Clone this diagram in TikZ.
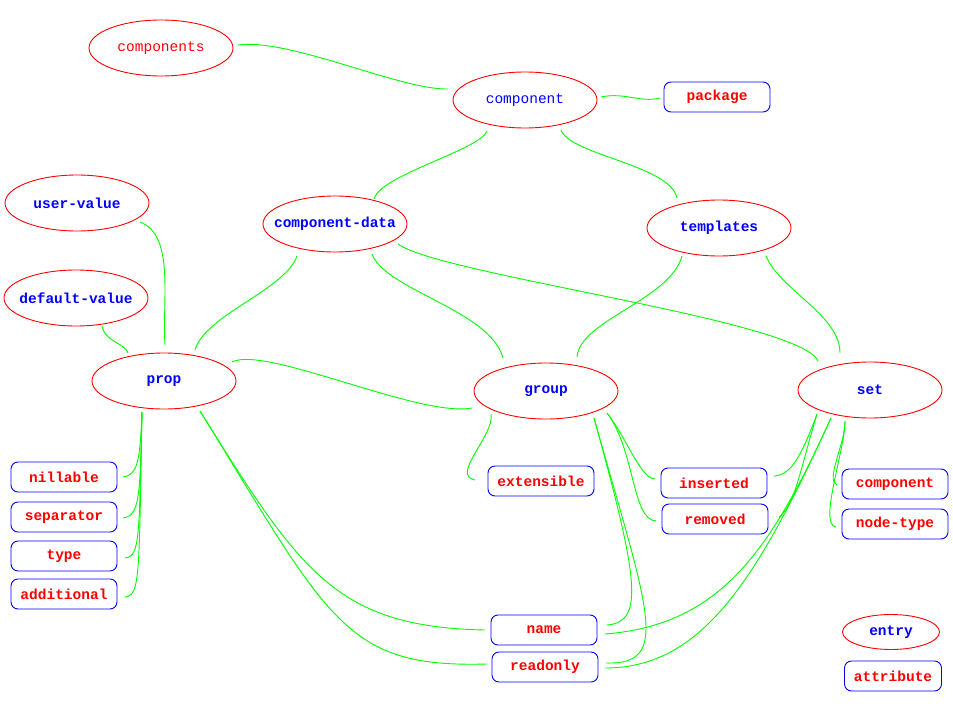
\documentclass[tikz,border=0pt]{standalone}
\usepackage{fontspec}
\newfontfamily\labfont{Liberation Mono}
\usetikzlibrary{shapes.geometric}
\definecolor{rd}{RGB}{255,0,0}
\definecolor{bl}{RGB}{0,0,255}
\definecolor{gr}{RGB}{0,255,0}
\tikzset{
  ent/.style={ellipse, draw=rd, text=bl, line width=0.9pt, inner ysep=0pt, inner xsep=-35pt,
    minimum width=144pt, minimum height=56pt, font=\labfont\bfseries\fontsize{14.5}{15}\selectfont},
  att/.style={rectangle, rounded corners=7pt, draw=bl, text=rd, line width=0.9pt, inner sep=0pt,
    minimum width=106pt, minimum height=30pt, font=\labfont\bfseries\fontsize{14.5}{15}\selectfont},
  conn/.style={draw=gr, line width=0.9pt}
}
\begin{document}
\begin{tikzpicture}[x=1pt,y=-1pt]
\useasboundingbox (0,0) rectangle (953,706);
% entries
\node[ent, text=rd, font=\labfont\fontsize{14.5}{15}\selectfont] (C1) at (161,48) {components};
\node[ent, font=\labfont\fontsize{14.5}{15}\selectfont] (CO) at (525,100) {component};
\node[att] (PK) at (717,97) {package};
\node[ent] (UV) at (77,203) {user-value};
\node[ent] (CD) at (335,224) {component-data};
\node[ent] (TP) at (719,228) {templates};
\node[ent] (DV) at (76,298) {default-value};
\node[ent] (PR) at (164,381) {prop};
\node[ent] (GR) at (546,391) {group};
\node[ent] (ST) at (870,390) {set};
\node[att] (NI) at (64,477) {nillable};
\node[att] (SE) at (64,517) {separator};
\node[att] (TY) at (64,556) {type};
\node[att] (AD) at (64,594) {additional};
\node[att] (EX) at (541,481) {extensible};
\node[att] (IN) at (714,483) {inserted};
\node[att] (RM) at (715,519) {removed};
\node[att] (CA) at (895,484) {component};
\node[att] (NT) at (895,524) {node-type};
\node[att] (NM) at (544,630) {name};
\node[att] (RO) at (545,667) {readonly};
\node[ent, minimum width=97pt, minimum height=35pt] (EN) at (891,632) {entry};
\node[att, minimum width=97pt] (AT) at (893,676) {attribute};
% connectors
\draw[conn] ([shift={(77,-3)}]C1.center) .. controls (290,38) and (400,90) .. ([shift={(-77,-11)}]CO.center);
\draw[conn] ([shift={(76,-3)}]CO.center) .. controls (625,92) and (640,103) .. ([shift={(-57,1)}]PK.center);
\draw[conn] ([shift={(-38,31)}]CO.center) .. controls (480,150) and (380,175) .. ([shift={(39,-25)}]CD.center);
\draw[conn] ([shift={(36,30)}]CO.center) .. controls (570,155) and (670,165) .. ([shift={(-42,-30)}]TP.center);
\draw[conn] ([shift={(63,19)}]UV.center) .. controls (175,235) and (162,300) .. ([shift={(1,-36)}]PR.center);
\draw[conn] ([shift={(26,28)}]DV.center) .. controls (105,342) and (125,343) .. ([shift={(-36,-28)}]PR.center);
\draw[conn] ([shift={(-38,32)}]CD.center) .. controls (285,290) and (205,315) .. ([shift={(31,-31)}]PR.center);
\draw[conn] ([shift={(37,30)}]CD.center) .. controls (385,290) and (490,310) .. ([shift={(-43,-33)}]GR.center);
\draw[conn] ([shift={(63,20)}]CD.center) .. controls (440,275) and (800,320) .. ([shift={(-52,-29)}]ST.center);
\draw[conn] ([shift={(-37,28)}]TP.center) .. controls (670,300) and (580,320) .. ([shift={(31,-34)}]GR.center);
\draw[conn] ([shift={(47,28)}]TP.center) .. controls (780,290) and (840,315) .. ([shift={(-30,-37)}]ST.center);
\draw[conn] ([shift={(68,-19)}]PR.center) .. controls (265,345) and (420,418) .. ([shift={(-74,17)}]GR.center);
\draw[conn] ([shift={(-22,31)}]PR.center) .. controls (140,460) and (138,475) .. ([shift={(59,0)}]NI.center);
\draw[conn] ([shift={(-22,31)}]PR.center) .. controls (140,495) and (140,516) .. ([shift={(59,1)}]SE.center);
\draw[conn] ([shift={(-22,31)}]PR.center) .. controls (139,540) and (140,556) .. ([shift={(61,2)}]TY.center);
\draw[conn] ([shift={(-22,31)}]PR.center) .. controls (139,580) and (140,595) .. ([shift={(61,3)}]AD.center);
\draw[conn] ([shift={(36,30)}]PR.center) .. controls (300,571) and (335,627) .. ([shift={(-59,0)}]NM.center);
\draw[conn] ([shift={(36,30)}]PR.center) .. controls (330,622) and (345,668) .. ([shift={(-58,-3)}]RO.center);
\draw[conn] ([shift={(-55,23)}]GR.center) .. controls (495,435) and (450,475) .. ([shift={(-66,-1)}]EX.center);
\draw[conn] ([shift={(61,22)}]GR.center) .. controls (628,440) and (640,478) .. ([shift={(-59,-4)}]IN.center);
\draw[conn] ([shift={(61,22)}]GR.center) .. controls (635,450) and (632,520) .. ([shift={(-59,2)}]RM.center);
\draw[conn] ([shift={(48,27)}]GR.center) .. controls (638,578) and (645,622) .. ([shift={(63,-5)}]NM.center);
\draw[conn] ([shift={(48,27)}]GR.center) .. controls (648,610) and (672,665) .. ([shift={(61,-4)}]RO.center);
\draw[conn] ([shift={(-53,24)}]ST.center) .. controls (800,460) and (790,475) .. ([shift={(60,-7)}]IN.center);
\draw[conn] ([shift={(-53,24)}]ST.center) .. controls (800,470) and (795,505) .. ([shift={(64,-2)}]RM.center);
\draw[conn] ([shift={(-39,28)}]ST.center) .. controls (770,552) and (720,625) .. ([shift={(61,4)}]NM.center);
\draw[conn] ([shift={(-39,28)}]ST.center) .. controls (755,585) and (700,668) .. ([shift={(60,1)}]RO.center);
\draw[conn] ([shift={(-25,31)}]ST.center) .. controls (845,445) and (825,480) .. ([shift={(-58,1)}]CA.center);
\draw[conn] ([shift={(-25,31)}]ST.center) .. controls (845,450) and (818,525) .. ([shift={(-59,3)}]NT.center);
\end{tikzpicture}
\end{document}
